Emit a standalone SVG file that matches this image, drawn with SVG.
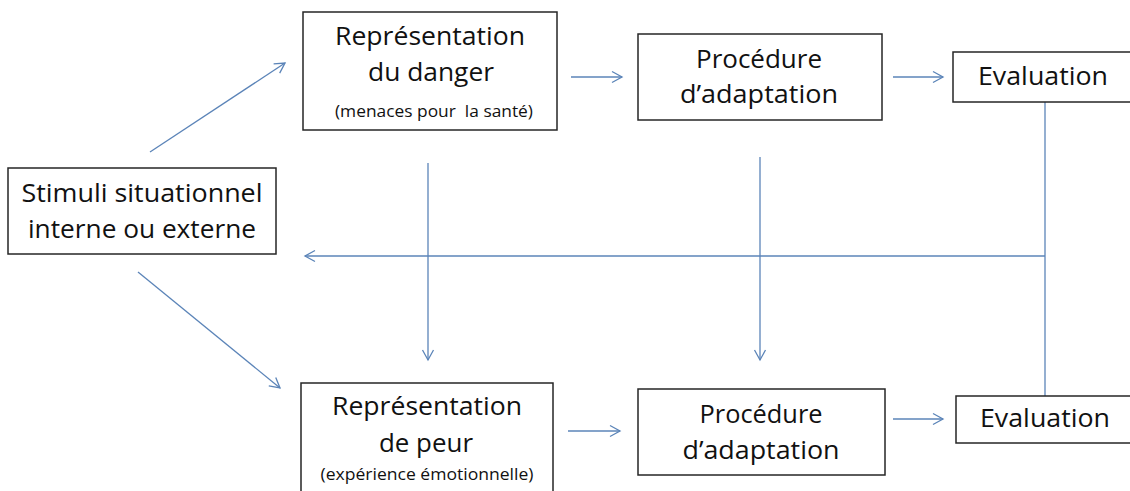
<svg xmlns="http://www.w3.org/2000/svg" width="1130" height="491" viewBox="0 0 1130 491">
<style>
  .box { fill: #ffffff; stroke: #262626; stroke-width: 1.5; }
  .t { font-family: "Open Sans", "Liberation Sans", sans-serif; font-size: 26px; fill: #111111; text-anchor: middle; }
  .s { font-family: "Open Sans", "Liberation Sans", sans-serif; font-size: 17px; fill: #111111; text-anchor: middle; }
  .c { fill: none; stroke: #5b84b8; stroke-width: 1.3; }
</style>
<defs>
  <marker id="arr" markerUnits="userSpaceOnUse" markerWidth="14" markerHeight="14" viewBox="0 0 14 14" refX="12" refY="7" orient="auto">
    <path d="M2,1.5 L12,7 L2,12.5" fill="none" stroke="#5b84b8" stroke-width="1.3"/>
  </marker>
</defs>
<rect x="0" y="0" width="1130" height="491" fill="#ffffff"/>

<g id="connectors">
  <line class="c" x1="150" y1="152" x2="285" y2="63" marker-end="url(#arr)"/>
  <line class="c" x1="138" y1="272" x2="280" y2="388" marker-end="url(#arr)"/>
  <line class="c" x1="571" y1="77" x2="622" y2="77" marker-end="url(#arr)"/>
  <line class="c" x1="893" y1="77" x2="943" y2="77" marker-end="url(#arr)"/>
  <line class="c" x1="568" y1="431" x2="620" y2="431" marker-end="url(#arr)"/>
  <line class="c" x1="893" y1="419" x2="943" y2="419" marker-end="url(#arr)"/>
  <line class="c" x1="428" y1="163" x2="428" y2="360" marker-end="url(#arr)"/>
  <line class="c" x1="760" y1="157" x2="760" y2="360" marker-end="url(#arr)"/>
  <line class="c" x1="1045" y1="102" x2="1045" y2="396"/>
  <line class="c" x1="1045" y1="256" x2="305" y2="256" marker-end="url(#arr)"/>
</g>

<g id="stimuli">
  <rect class="box" x="8" y="168" width="268" height="86"/>
  <text class="t" x="142" y="202" textLength="241" lengthAdjust="spacingAndGlyphs">Stimuli situationnel</text>
  <text class="t" x="142" y="238" textLength="228" lengthAdjust="spacingAndGlyphs">interne ou externe</text>
</g>

<g id="representation-danger">
  <rect class="box" x="303" y="12" width="254" height="118"/>
  <text class="t" x="430" y="45" textLength="190" lengthAdjust="spacingAndGlyphs">Représentation</text>
  <text class="t" x="431" y="81" textLength="126" lengthAdjust="spacingAndGlyphs">du danger</text>
  <text class="s" x="434" y="117" textLength="198" lengthAdjust="spacingAndGlyphs" xml:space="preserve">(menaces pour  la santé)</text>
</g>

<g id="procedure-haut">
  <rect class="box" x="638" y="34" width="244" height="86"/>
  <text class="t" x="759" y="68" textLength="126" lengthAdjust="spacingAndGlyphs">Procédure</text>
  <text class="t" x="759" y="103" textLength="158" lengthAdjust="spacingAndGlyphs">d’adaptation</text>
</g>

<g id="evaluation-haut">
  <rect class="box" x="953" y="52" width="190" height="50"/>
  <text class="t" x="1043" y="85" textLength="130" lengthAdjust="spacingAndGlyphs">Evaluation</text>
</g>

<g id="representation-peur">
  <rect class="box" x="301" y="383" width="252" height="115"/>
  <text class="t" x="427" y="415" textLength="190" lengthAdjust="spacingAndGlyphs">Représentation</text>
  <text class="t" x="426" y="452" textLength="94" lengthAdjust="spacingAndGlyphs">de peur</text>
  <text class="s" x="427" y="480" textLength="213" lengthAdjust="spacingAndGlyphs">(expérience émotionnelle)</text>
</g>

<g id="procedure-bas">
  <rect class="box" x="638" y="389" width="247" height="86"/>
  <text class="t" x="761" y="423" textLength="123" lengthAdjust="spacingAndGlyphs">Procédure</text>
  <text class="t" x="761" y="459" textLength="157" lengthAdjust="spacingAndGlyphs">d’adaptation</text>
</g>

<g id="evaluation-bas">
  <rect class="box" x="956" y="396" width="190" height="47"/>
  <text class="t" x="1045" y="427" textLength="130" lengthAdjust="spacingAndGlyphs">Evaluation</text>
</g>
</svg>
